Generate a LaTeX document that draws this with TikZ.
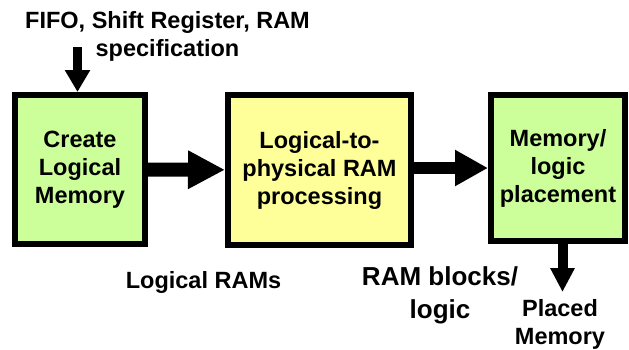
\documentclass[tikz,border=0pt]{standalone}
\usepackage{fontspec}
\setmainfont{Liberation Sans}
\usetikzlibrary{arrows.meta}

\definecolor{boxgreen}{HTML}{CCFF99}
\definecolor{boxyellow}{HTML}{FFFF99}
\newcommand{\blockfont}{\fontsize{23.5}{28}\selectfont\bfseries}

\tikzset{
	block/.style={draw=black, line width=6pt, align=center, inner sep=0pt, font=\blockfont},
	tag/.style={align=center, font=\blockfont},
	flow/.style={draw=black}
}

\begin{document}
\begin{tikzpicture}[x=1pt,y=-1pt]
			\useasboundingbox (0,0) rectangle (629,349);
			% the three stages
			\node[block, fill=boxgreen, minimum width=130pt, minimum height=149pt] (create) at (80,169.5) {Create\\Logical\\Memory};
			\node[block, fill=boxyellow, minimum width=183pt, minimum height=150pt] (convert) at (319.5,170) {Logical-to-\\physical RAM\\processing};
			\node[block, fill=boxgreen, minimum width=134pt, minimum height=146pt] (place) at (558,168) {Memory/\\logic\\placement};
			% inputs and outputs
			\node[tag] (spec) at (167.5,36.5) {FIFO, Shift Register, RAM\\specification};
			\node[tag] (lrams) at (203.5,282) {Logical RAMs};
			\node[tag, font=\fontsize{26}{33}\selectfont\bfseries] (blocks) at (440,295) {RAM blocks/\\logic};
			\node[tag] (placed) at (560,324) {Placed\\Memory};
			\coordinate (in) at (77.5,47);
			\coordinate (out) at (562.5,292);
			\draw[flow, line width=9pt, -{Triangle[width=24pt,length=22pt]}] (in) -- (in |- create.north);
			\draw[flow, line width=14pt, -{Triangle[width=36pt,length=37pt]}] (create) -- (convert);
			\draw[flow, line width=12pt, -{Triangle[width=34pt,length=33pt]}] (convert.east |- place) -- (place);
			\draw[flow, line width=10pt, -{Triangle[width=23pt,length=24pt]}] (place.south -| out) -- (out);
			\end{tikzpicture}
\end{document}
